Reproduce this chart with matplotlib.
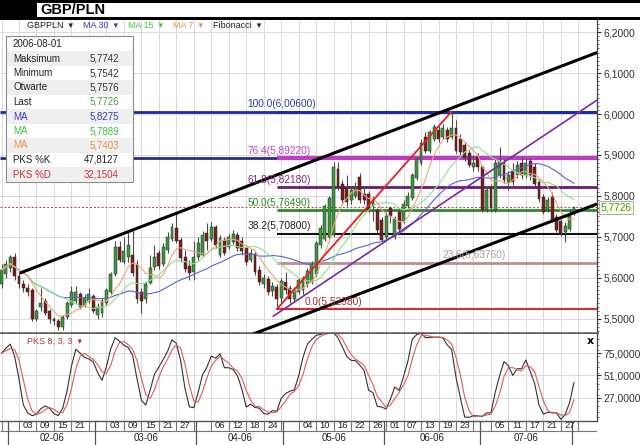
import numpy as np
import pandas as pd
import matplotlib
matplotlib.use("Agg")
import matplotlib.pyplot as plt
from matplotlib.patches import Rectangle
from matplotlib.ticker import MultipleLocator, FixedLocator, FuncFormatter

plt.rcParams['font.family'] = ['Liberation Sans', 'DejaVu Sans']

# ---------------- data ----------------
dates = pd.bdate_range('2006-01-30', '2006-08-01')

opens = [5.585, 5.610, 5.625, 5.650, 5.605, 5.585, 5.575, 5.570, 5.500, 5.530,
         5.545, 5.520, 5.500, 5.495, 5.480, 5.505, 5.535, 5.545, 5.560, 5.535,
         5.545, 5.555, 5.510, 5.515, 5.540, 5.565, 5.610, 5.675, 5.640, 5.650,
         5.655, 5.635, 5.565, 5.548, 5.588, 5.627, 5.660, 5.635, 5.668, 5.695,
         5.722, 5.692, 5.650, 5.630, 5.615, 5.650, 5.655, 5.710, 5.695, 5.724,
         5.655, 5.693, 5.675, 5.688, 5.705, 5.690, 5.672, 5.645, 5.658, 5.620,
         5.585, 5.598, 5.568, 5.578, 5.550, 5.590, 5.575, 5.548, 5.565, 5.570,
         5.585, 5.590, 5.610, 5.680, 5.695, 5.700, 5.705, 5.865, 5.830, 5.820,
         5.790, 5.800, 5.846, 5.805, 5.805, 5.775, 5.766, 5.741, 5.700, 5.770,
         5.700, 5.760, 5.740, 5.775, 5.795, 5.845, 5.880, 5.945, 5.910, 5.940,
         5.962, 5.945, 5.962, 5.945, 5.965, 5.940, 5.925, 5.905, 5.870, 5.895,
         5.870, 5.765, 5.820, 5.765, 5.850, 5.880, 5.835, 5.860, 5.850, 5.880,
         5.852, 5.885, 5.870, 5.835, 5.798, 5.766, 5.798, 5.749, 5.740, 5.712,
         5.720, 5.7576]
highs = [5.635, 5.645, 5.655, 5.660, 5.615, 5.595, 5.585, 5.575, 5.525, 5.575,
         5.550, 5.525, 5.505, 5.500, 5.510, 5.545, 5.580, 5.580, 5.565, 5.560,
         5.575, 5.560, 5.540, 5.550, 5.575, 5.615, 5.690, 5.690, 5.700, 5.713,
         5.715, 5.645, 5.575, 5.590, 5.656, 5.680, 5.668, 5.685, 5.713, 5.735,
         5.759, 5.700, 5.668, 5.644, 5.690, 5.700, 5.715, 5.734, 5.737, 5.730,
         5.705, 5.700, 5.708, 5.718, 5.712, 5.700, 5.680, 5.670, 5.665, 5.630,
         5.610, 5.605, 5.590, 5.585, 5.600, 5.615, 5.582, 5.578, 5.600, 5.605,
         5.625, 5.642, 5.690, 5.730, 5.780, 5.800, 5.882, 5.882, 5.838, 5.850,
         5.825, 5.835, 5.856, 5.825, 5.812, 5.800, 5.770, 5.748, 5.762, 5.775,
         5.750, 5.770, 5.790, 5.810, 5.856, 5.896, 5.940, 5.955, 5.962, 5.975,
         5.970, 5.975, 5.968, 6.006, 5.985, 5.950, 5.932, 5.912, 5.900, 5.905,
         5.875, 5.825, 5.830, 5.890, 5.920, 5.890, 5.860, 5.880, 5.885, 5.895,
         5.892, 5.892, 5.880, 5.842, 5.805, 5.798, 5.810, 5.756, 5.745, 5.737,
         5.768, 5.7742]
lows = [5.575, 5.600, 5.615, 5.595, 5.575, 5.565, 5.555, 5.495, 5.495, 5.520,
        5.510, 5.490, 5.485, 5.473, 5.474, 5.500, 5.530, 5.540, 5.525, 5.530,
        5.540, 5.515, 5.500, 5.505, 5.535, 5.560, 5.605, 5.640, 5.635, 5.640,
        5.605, 5.540, 5.515, 5.538, 5.585, 5.620, 5.622, 5.630, 5.662, 5.690,
        5.685, 5.640, 5.615, 5.595, 5.595, 5.645, 5.650, 5.668, 5.690, 5.672,
        5.650, 5.655, 5.670, 5.682, 5.665, 5.655, 5.632, 5.638, 5.608, 5.582,
        5.575, 5.558, 5.555, 5.5238, 5.540, 5.562, 5.540, 5.542, 5.560, 5.562,
        5.578, 5.585, 5.605, 5.672, 5.690, 5.695, 5.700, 5.815, 5.782, 5.775,
        5.780, 5.795, 5.782, 5.780, 5.760, 5.740, 5.710, 5.688, 5.695, 5.735,
        5.695, 5.712, 5.735, 5.770, 5.790, 5.840, 5.876, 5.905, 5.905, 5.935,
        5.932, 5.938, 5.932, 5.938, 5.905, 5.900, 5.885, 5.870, 5.862, 5.862,
        5.760, 5.760, 5.762, 5.760, 5.845, 5.832, 5.815, 5.828, 5.845, 5.842,
        5.845, 5.840, 5.820, 5.786, 5.755, 5.760, 5.736, 5.712, 5.703, 5.688,
        5.715, 5.7542]
closes = [5.620, 5.635, 5.650, 5.605, 5.585, 5.575, 5.565, 5.500, 5.520, 5.540,
          5.515, 5.500, 5.495, 5.480, 5.505, 5.540, 5.565, 5.565, 5.530, 5.550,
          5.560, 5.520, 5.530, 5.545, 5.570, 5.610, 5.675, 5.645, 5.665, 5.680,
          5.612, 5.548, 5.545, 5.585, 5.625, 5.650, 5.630, 5.675, 5.700, 5.724,
          5.690, 5.648, 5.622, 5.612, 5.650, 5.685, 5.705, 5.690, 5.724, 5.680,
          5.698, 5.660, 5.700, 5.708, 5.672, 5.665, 5.640, 5.662, 5.615, 5.590,
          5.600, 5.565, 5.580, 5.548, 5.592, 5.570, 5.548, 5.570, 5.595, 5.600,
          5.618, 5.635, 5.685, 5.722, 5.775, 5.795, 5.870, 5.822, 5.790, 5.785,
          5.815, 5.820, 5.790, 5.790, 5.766, 5.790, 5.717, 5.693, 5.750, 5.750,
          5.745, 5.720, 5.780, 5.800, 5.850, 5.890, 5.930, 5.910, 5.955, 5.968,
          5.940, 5.965, 5.940, 5.965, 5.910, 5.908, 5.892, 5.876, 5.880, 5.870,
          5.765, 5.815, 5.770, 5.880, 5.885, 5.840, 5.850, 5.835, 5.875, 5.850,
          5.880, 5.850, 5.830, 5.792, 5.760, 5.790, 5.742, 5.718, 5.710, 5.728,
          5.750, 5.7726]

fib_pct = [100.0, 76.4, 61.8, 50.0, 38.2, 23.6, 0.0]
fib_val = [6.00600, 5.89220, 5.82180, 5.76490, 5.70800, 5.63760, 5.52380]
fib_low_date = '2006-04-27'
fib_high_date = '2006-06-22'

day_labels = ["", "03", "09", "15", "21", "",
              "03", "09", "15", "21", "27", "",
              "06", "12", "18", "24", "",
              "04", "10", "16", "22", "26",
              "01", "07", "13", "19", "23", "",
              "05", "11", "17", "21", "27", ""]
month_labels = ["02-06", "03-06", "04-06", "05-06", "06-06", "07-06"]

info_date = "2006-08-01"
info_names = ["Maksimum", "Minimum", "Otwarte", "Last", "MA", "MA", "MA", "PKS %K", "PKS %D"]
info_values = ["5,7742", "5,7542", "5,7576", "5,7726", "5,8275", "5,7889", "5,7403", "47,8127", "32,1504"]

upper_channel_x = [4.2, 136.3]
upper_channel_y = [5.612, 6.150]
lower_channel_x = [57.5, 136.3]
lower_channel_y = [5.463, 5.7805]
purple_x = [62.2, 136.3]
purple_y = [5.507, 6.034]

main_yticks = [5.5, 5.6, 5.7, 5.8, 5.9, 6.0, 6.1, 6.2]
stoch_yticks = [27, 51, 75]

# ---------------- derived ----------------
n = len(dates)
x = np.arange(n)
o = np.array(opens); h = np.array(highs); l = np.array(lows); c = np.array(closes)
cs = pd.Series(c)
ma30 = cs.rolling(30, min_periods=1).mean()
ma15 = cs.rolling(15, min_periods=1).mean()
ma7 = cs.rolling(7, min_periods=1).mean()
hh = pd.Series(h).rolling(8, min_periods=1).max()
ll = pd.Series(l).rolling(8, min_periods=1).min()
raw = 100 * (cs - ll) / (hh - ll)
pk_k = raw.rolling(3, min_periods=1).mean()
pk_d = pk_k.rolling(3, min_periods=1).mean()

tick_pos = np.arange(0, 4 * len(day_labels), 4)
months = np.array([d.month for d in dates])
dividers = [i - 0.5 for i in range(1, n) if months[i] != months[i - 1]]

low_i = int(dates.get_loc(pd.Timestamp(fib_low_date)))
high_i = int(dates.get_loc(pd.Timestamp(fib_high_date)))

W, H = 640, 445
def fx(px): return px / W
def fy(py): return 1 - py / H

XL = (-0.35, 136.27)
comma = lambda v, p=4: f"{v:.{p}f}".replace('.', ',')

fig = plt.figure(figsize=(6.4, 4.45), dpi=100)
fig.patch.set_facecolor('white')

# ---------------- main panel ----------------
ax = fig.add_axes([0, fy(333), fx(597), (333 - 20) / H])
ax.set_xlim(*XL)
ax.set_ylim(5.46585, 6.22927)
ax.set_xticks(tick_pos)
ax.tick_params(axis='x', length=0, labelbottom=False)
ax.yaxis.tick_right()
ax.yaxis.set_major_locator(FixedLocator(main_yticks))
ax.yaxis.set_minor_locator(MultipleLocator(0.01))
ax.yaxis.set_major_formatter(FuncFormatter(lambda v, p: comma(v)))
ax.tick_params(axis='y', which='major', length=3, width=0.8, pad=1.5, labelsize=7.5,
               colors='#333333', direction='out')
ax.tick_params(axis='y', which='minor', length=1.6, width=0.6, colors='#555555', direction='out')
ax.grid(True, which='major', color='#d9d9d9', lw=0.7, zorder=0)
ax.set_axisbelow(True)
for s in ['left', 'top']:
    ax.spines[s].set_visible(False)
ax.spines['right'].set_color('#444444'); ax.spines['right'].set_linewidth(0.9)
ax.spines['bottom'].set_color('#5a5a5a'); ax.spines['bottom'].set_linewidth(1.8)

# horizontal reference / fibonacci lines
ax.hlines(fib_val[0], XL[0], XL[1], color='#1c2ca0', lw=2.0, zorder=2)
ax.hlines(fib_val[1], XL[0], low_i, color='#2b2b8c', lw=2.0, zorder=2)
fib_line_cols = ['#1c2ca0', '#c03cc8', '#6a1a74', '#2e8b2e', '#111111', '#b89090', '#e82020']
fib_line_w = [2.0, 3.0, 2.0, 2.0, 1.5, 2.0, 1.4]
fib_text_cols = ['#2a3aa8', '#c040c0', '#7a2a7a', '#2a8a2a', '#222222', '#b09a9a', '#a83030']
fib_text_x = [56.2, 56.2, 56.4, 56.2, 56.2, 100.8, 69.4]
for val, pct, lc, lw_, tc, tx in zip(fib_val, fib_pct, fib_line_cols, fib_line_w, fib_text_cols, fib_text_x):
    ax.hlines(val, low_i, XL[1], color=lc, lw=lw_, zorder=2)
    ax.annotate(f"{pct:.1f}({comma(val, 5)})", (tx, val), xytext=(0, 1.8),
                textcoords='offset points', ha='left', va='bottom', fontsize=7.3,
                color=tc, zorder=7)

ax.axhline(c[-1], color='#c04040', lw=0.7, ls=(0, (2, 2)), zorder=2)

# candles
up = c >= o
body_col = np.where(up, '#3a9a3a', '#7a1c1c')
ax.vlines(x, l, h, color='#4a4a4a', lw=0.8, zorder=3)
ax.bar(x, np.maximum(np.abs(c - o), 0.0015), bottom=np.minimum(o, c), width=0.66,
       color=body_col, edgecolor='#2a2a2a', linewidth=0.35, zorder=4)

# moving averages
ax.plot(x, ma30, color='#5566cc', lw=0.8, zorder=5)
ax.plot(x, ma15, color='#8ee08e', lw=0.8, zorder=5)
ax.plot(x, ma7, color='#f2a27a', lw=0.8, zorder=5)

# trend lines
ax.plot(upper_channel_x, upper_channel_y, color='black', lw=2.2, zorder=6, solid_capstyle='butt')
ax.plot(lower_channel_x, lower_channel_y, color='black', lw=2.2, zorder=6, solid_capstyle='butt')
ax.plot(purple_x, purple_y, color='#7a2aa0', lw=1.2, zorder=6)
ax.plot([low_i, high_i], [l[low_i], h[high_i]], color='#e82020', lw=1.3, zorder=6)

ax.annotate(comma(c[-1]), xy=(1.0, c[-1]), xycoords=('axes fraction', 'data'),
            xytext=(2.5, 0), textcoords='offset points', ha='left', va='center',
            fontsize=7.3, color='#3a9a3a', annotation_clip=False, zorder=10,
            bbox=dict(boxstyle='square,pad=0.15', fc='#fdfde6', ec='#a0a0a0', lw=0.6))

# ---------------- stochastic panel ----------------
ax2 = fig.add_axes([0, fy(421), fx(597), (421 - 334) / H])
ax2.set_xlim(*XL)
ax2.set_ylim(1.91, 95.73)
ax2.set_xticks(tick_pos)
ax2.tick_params(axis='x', length=0, labelbottom=False)
ax2.yaxis.tick_right()
ax2.yaxis.set_major_locator(FixedLocator(stoch_yticks))
ax2.yaxis.set_minor_locator(MultipleLocator(6))
ax2.yaxis.set_major_formatter(FuncFormatter(lambda v, p: comma(v)))
ax2.tick_params(axis='y', which='major', length=3, width=0.8, pad=1.5, labelsize=7.5,
                colors='#333333')
ax2.tick_params(axis='y', which='minor', length=1.6, width=0.6, colors='#555555')
ax2.grid(True, which='major', color='#d9d9d9', lw=0.7)
ax2.set_axisbelow(True)
for s in ['left', 'top']:
    ax2.spines[s].set_visible(False)
ax2.spines['right'].set_color('#444444'); ax2.spines['right'].set_linewidth(0.9)
ax2.spines['bottom'].set_color('#555555'); ax2.spines['bottom'].set_linewidth(1.0)
ax2.plot(x, pk_k, color='#333333', lw=0.8, zorder=3)
ax2.plot(x, pk_d, color='#e05a5a', lw=0.8, zorder=3)

# ---------------- date axis ----------------
ax3 = fig.add_axes([0, 0, fx(597), 24 / H])
ax3.set_xlim(*XL)
ax3.set_ylim(0, 24)
ax3.axis('off')
ax3.hlines(14, XL[0], XL[1], color='#777777', lw=0.8)
ax3.vlines(tick_pos, 14, 24, color='#777777', lw=0.8)
ax3.vlines(dividers, 0, 24, color='#555555', lw=0.9)
for t, lab in zip(tick_pos, day_labels):
    if lab:
        ax3.text(t + 2, 19, lab, ha='center', va='center', fontsize=6.8, color='#222222')
for k, lab in enumerate(month_labels):
    mid = (dividers[k] + dividers[k + 1]) / 2
    ax3.text(mid, 7, lab, ha='center', va='center', fontsize=7, color='#222222')

# ---------------- overlay (header, toolbar, info box) ----------------
ov = fig.add_axes([0, 0, 1, 1], zorder=10)
ov.set_xlim(0, W); ov.set_ylim(H, 0); ov.axis('off')
ov.add_patch(Rectangle((0, 0), W, 20, fc='black', ec='none'))
ov.add_patch(Rectangle((37, 2.5), W - 37, 14.5, fc='white', ec='none'))
ov.text(40, 10, "GBP/PLN", fontsize=10.5, fontweight='bold', va='center', ha='left', color='black')

tb = [("GBPPLN  \u25be", 27, '#222222'), ("MA 30  \u25be", 83, '#3a3ac0'),
      ("MA 15  \u25be", 128, '#3cc83c'), ("MA 7  \u25be", 173, '#e8904a'),
      ("Fibonacci  \u25be", 213, '#222222')]
for txt, tx, col in tb:
    ov.text(tx, 25.5, txt, fontsize=6.5, color=col, va='center', ha='left')

ov.text(27, 341, "PKS 8, 3, 3  \u25be", fontsize=6.5, color='#b03a3a', va='center', ha='left')
ov.text(590, 341, "x", fontsize=8, fontweight='bold', color='black', va='center', ha='center',
        family='DejaVu Sans')

# info box
ov.add_patch(Rectangle((6, 36), 127, 146, fc='white', ec='#8a8a8a', lw=0.8))
ov.text(13, 44, info_date, fontsize=7, color='#222222', va='center', ha='left')
name_cols = ['#222222', '#222222', '#222222', '#222222', '#3b3bc0', '#40c040', '#e8904a', '#222222', '#cc3333']
val_cols = ['#333333', '#333333', '#333333', '#4a9a4a', '#3b3bc0', '#40c040', '#e8904a', '#222222', '#cc3333']
for k, (nm, vv) in enumerate(zip(info_names, info_values)):
    yc = 58.5 + 14.5 * k
    if k % 2 == 0:
        ov.add_patch(Rectangle((7, yc - 7.2), 125, 14.4, fc='#efefef', ec='none'))
    ov.text(13, yc, nm, fontsize=7, color=name_cols[k], va='center', ha='left')
    ov.text(119, yc, vv, fontsize=7, color=val_cols[k], va='center', ha='right')

fig.savefig('out.png', dpi=100, facecolor='white')
